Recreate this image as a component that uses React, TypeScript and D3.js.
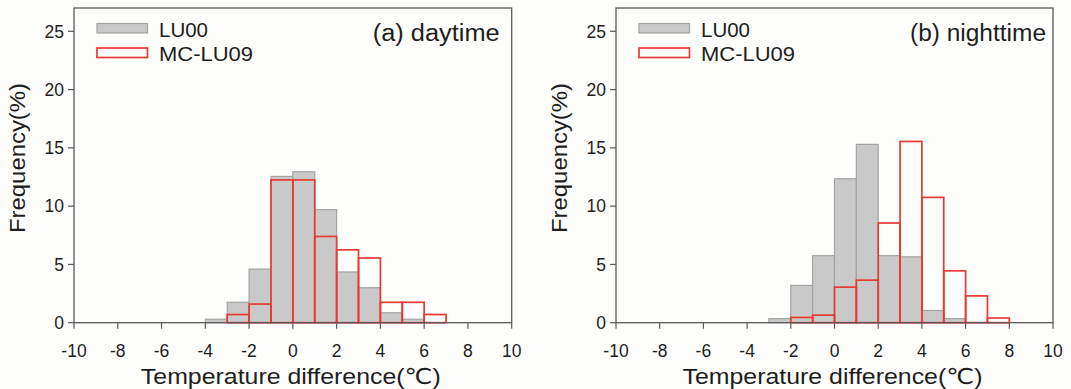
import React from "react";
import * as d3 from "d3";

// ---- Data (frequency %, bins of width 1 °C, start value listed) ----
const dayBins = [-4, -3, -2, -1, 0, 1, 2, 3, 4, 5, 6];
const dayLU00 = [0.3, 1.75, 4.6, 12.55, 12.95, 9.7, 4.35, 3.0, 0.85, 0.3, 0];
const dayMCLU09 = [0, 0.7, 1.6, 12.25, 12.25, 7.4, 6.25, 5.55, 1.75, 1.75, 0.7];

const nightBins = [-3, -2, -1, 0, 1, 2, 3, 4, 5, 6, 7];
const nightLU00 = [0.35, 3.2, 5.75, 12.35, 15.3, 5.75, 5.65, 1.05, 0.35, 0, 0];
const nightMCLU09 = [0, 0.45, 0.65, 3.05, 3.65, 8.55, 15.55, 10.75, 4.45, 2.3, 0.4];

const xTicks = [-10, -8, -6, -4, -2, 0, 2, 4, 6, 8, 10];
const yTicks = [0, 5, 10, 15, 20, 25];
const seriesNames = ["LU00", "MC-LU09"];
const panelTitles = ["(a) daytime", "(b) nighttime"];
const xLabelParts = ["Temperature difference(", "\u2103", ")"];
const yLabel = "Frequency(%)";

const W = 1071;
const H = 389;
const TOP = 8;
const BOTTOM = 322.7;
const FONT = "'Liberation Sans', Arial, 'DejaVu Sans', sans-serif";
const SYM = "'DejaVu Sans', 'Liberation Sans', sans-serif";
const AXIS = "#5a5a5a";
const TEXT = "#1e1e1e";
const GRAY_FILL = "#c9c9c9";
const GRAY_STROKE = "#a3a3a3";
const RED = "#e83a35";

type PanelProps = {
  left: number;
  right: number;
  bins: number[];
  lu00: number[];
  mclu09: number[];
  title: string;
  titleLen: number;
  titleRightPad: number;
};

function Panel({ left, right, bins, lu00, mclu09, title, titleLen, titleRightPad }: PanelProps) {
  const x = d3.scaleLinear().domain([-10, 10]).range([left, right]);
  const y = d3.scaleLinear().domain([0, 27]).range([BOTTOM, TOP]);
  const cx = (left + right) / 2;
  return (
    <g>
      {bins.map((b, i) =>
        lu00[i] > 0 ? (
          <rect
            key={"g" + i}
            x={x(b)}
            y={y(lu00[i])}
            width={x(b + 1) - x(b)}
            height={y(0) - y(lu00[i])}
            fill={GRAY_FILL}
            stroke={GRAY_STROKE}
            strokeWidth={1.2}
          />
        ) : null
      )}
      {bins.map((b, i) =>
        mclu09[i] > 0 ? (
          <rect
            key={"r" + i}
            x={x(b)}
            y={y(mclu09[i])}
            width={x(b + 1) - x(b)}
            height={y(0) - y(mclu09[i])}
            fill="none"
            stroke={RED}
            strokeWidth={1.7}
          />
        ) : null
      )}
      <rect
        x={left}
        y={TOP}
        width={right - left}
        height={BOTTOM - TOP}
        fill="none"
        stroke={AXIS}
        strokeWidth={1.3}
      />
      {yTicks.map((t) => (
        <g key={"y" + t}>
          <line x1={left - 6} x2={left} y1={y(t)} y2={y(t)} stroke={AXIS} strokeWidth={1.2} />
          <text
            x={left - 10}
            y={y(t)}
            dy="0.36em"
            textAnchor="end"
            fontSize={17.5}
            fill={TEXT}
            fontFamily={FONT}
          >
            {t}
          </text>
        </g>
      ))}
      {xTicks.map((t) => (
        <g key={"x" + t}>
          <line x1={x(t)} x2={x(t)} y1={BOTTOM} y2={BOTTOM + 6} stroke={AXIS} strokeWidth={1.2} />
          <text
            x={x(t)}
            y={356.5}
            textAnchor="middle"
            fontSize={17.5}
            fill={TEXT}
            fontFamily={FONT}
          >
            {t}
          </text>
        </g>
      ))}
      <text
        x={cx - 2}
        y={384}
        textAnchor="middle"
        fontSize={22}
        fill={TEXT}
        fontFamily={FONT}
        textLength={300}
        lengthAdjust="spacingAndGlyphs"
      >
        {xLabelParts[0]}
        <tspan fontFamily={SYM}>{xLabelParts[1]}</tspan>
        {xLabelParts[2]}
      </text>
      <text
        transform={`translate(${left - 49},158) rotate(-90)`}
        textAnchor="middle"
        fontSize={22}
        fill={TEXT}
        fontFamily={FONT}
        textLength={150}
        lengthAdjust="spacingAndGlyphs"
      >
        {yLabel}
      </text>
      <rect x={left + 23} y={23.5} width={50.5} height={9.5} fill={GRAY_FILL} stroke={GRAY_STROKE} strokeWidth={1.2} />
      <rect x={left + 23} y={48} width={50.5} height={9.5} fill="#ffffff" stroke={RED} strokeWidth={1.7} />
      <text x={left + 85} y={36.5} fontSize={20} fill={TEXT} fontFamily={FONT} textLength={49} lengthAdjust="spacingAndGlyphs">
        {seriesNames[0]}
      </text>
      <text x={left + 85} y={61} fontSize={20} fill={TEXT} fontFamily={FONT} textLength={94} lengthAdjust="spacingAndGlyphs">
        {seriesNames[1]}
      </text>
      <text
        x={right - titleRightPad - titleLen}
        y={41}
        fontSize={23}
        fill={TEXT}
        fontFamily={FONT}
        textLength={titleLen}
        lengthAdjust="spacingAndGlyphs"
      >
        {title}
      </text>
    </g>
  );
}

export default function App() {
  return (
    <svg
      width={W}
      height={H}
      style={{ position: "absolute", left: 0, top: 0, background: "#fdfdfb" }}
    >
      <rect x={0} y={0} width={W} height={H} fill="#fdfdfb" />
      <Panel
        left={74}
        right={511.7}
        bins={dayBins}
        lu00={dayLU00}
        mclu09={dayMCLU09}
        title={panelTitles[0]}
        titleLen={127}
        titleRightPad={12}
      />
      <Panel
        left={616}
        right={1053}
        bins={nightBins}
        lu00={nightLU00}
        mclu09={nightMCLU09}
        title={panelTitles[1]}
        titleLen={136}
        titleRightPad={7}
      />
    </svg>
  );
}
